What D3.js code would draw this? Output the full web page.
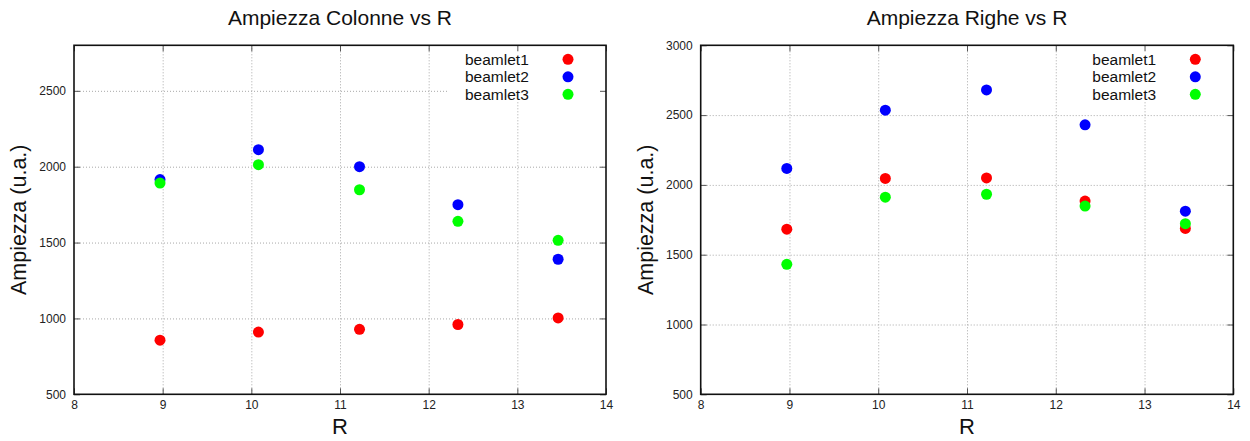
<!DOCTYPE html>
<html>
<head>
<meta charset="utf-8">
<script src="https://cdn.jsdelivr.net/npm/d3@7"></script>
<style>
    body { margin: 0; background: #fff; }
    svg { display: block; font-family: "Liberation Sans", Arial, sans-serif; }
</style>
</head>
<body>
<svg id="chart" width="1250" height="441"></svg>
<script>
    // Data
    const rValues = [8.97, 10.08, 11.22, 12.33, 13.46];
    const seriesNames = ['beamlet1', 'beamlet2', 'beamlet3'];
    const seriesColors = ['#ff0000', '#0000ff', '#00ff00'];

    const colonneBeamlet1 = [857, 910, 928, 960, 1003];
    const colonneBeamlet2 = [1915, 2112, 2000, 1750, 1390];
    const colonneBeamlet3 = [1892, 2013, 1848, 1640, 1515];

    const righeBeamlet1 = [1683, 2046, 2050, 1884, 1688];
    const righeBeamlet2 = [2118, 2535, 2680, 2430, 1812];
    const righeBeamlet3 = [1431, 1912, 1933, 1848, 1722];

    const xTicks = [8, 9, 10, 11, 12, 13, 14];
    const colonneYTicks = [500, 1000, 1500, 2000, 2500];
    const righeYTicks = [500, 1000, 1500, 2000, 2500, 3000];

    const svg = d3.select('#chart');

    // Draw one gnuplot-style panel
    function drawPanel(opts) {
        const { left, right, top, bottom, title, yDomain, yTicks, series } = opts;

        const x = d3.scaleLinear().domain([8, 14]).range([left, right]);
        const y = d3.scaleLinear().domain(yDomain).range([bottom, top]);
        const g = svg.append('g');

        // Grid
        const grid = g.append('g')
            .attr('stroke', '#a8a8a8')
            .attr('stroke-width', 1)
            .attr('stroke-dasharray', '1,2');
        grid.selectAll('line.gx')
            .data(xTicks.slice(1, -1))
            .join('line')
            .attr('x1', d => x(d) + 0.5).attr('x2', d => x(d) + 0.5)
            .attr('y1', top).attr('y2', bottom);
        grid.selectAll('line.gy')
            .data(yTicks.filter(t => t > yDomain[0] && t < yDomain[1]))
            .join('line')
            .attr('x1', left).attr('x2', right)
            .attr('y1', d => y(d) + 0.5).attr('y2', d => y(d) + 0.5);

        // Legend box hides the grid behind it
        const legX = right - 158;
        g.append('rect')
            .attr('x', legX).attr('y', top + 1)
            .attr('width', right - legX - 1).attr('height', 55)
            .attr('fill', '#fff');

        // Axes: inward ticks on all four sides
        const tickLen = -6;
        g.append('g')
            .attr('transform', `translate(0,${bottom})`)
            .call(d3.axisBottom(x).tickValues(xTicks).tickSize(tickLen).tickPadding(6).tickFormat(d3.format('d')));
        g.append('g')
            .attr('transform', `translate(0,${top})`)
            .call(d3.axisTop(x).tickValues(xTicks).tickSize(tickLen).tickFormat(''));
        g.append('g')
            .attr('transform', `translate(${left},0)`)
            .call(d3.axisLeft(y).tickValues(yTicks).tickSize(tickLen).tickPadding(8).tickFormat(d3.format('d')));
        g.append('g')
            .attr('transform', `translate(${right},0)`)
            .call(d3.axisRight(y).tickValues(yTicks).tickSize(tickLen).tickFormat(''));

        g.selectAll('.domain').remove();
        g.selectAll('.tick line').attr('stroke', '#555').attr('stroke-width', 1);
        g.selectAll('.tick text')
            .attr('font-size', 12)
            .attr('fill', '#222')
            .attr('font-family', '"Liberation Sans", Arial, sans-serif');

        // Border
        g.append('rect')
            .attr('x', left).attr('y', top)
            .attr('width', right - left).attr('height', bottom - top)
            .attr('fill', 'none')
            .attr('stroke', '#111')
            .attr('stroke-width', 1.6);

        // Points
        series.forEach((vals, i) => {
            g.append('g').selectAll('circle')
                .data(vals.map((v, j) => [rValues[j], v]))
                .join('circle')
                .attr('cx', d => x(d[0]))
                .attr('cy', d => y(d[1]))
                .attr('r', 5.5)
                .attr('fill', seriesColors[i]);
        });

        // Legend
        const leg = g.append('g');
        seriesNames.forEach((name, i) => {
            const ly = top + 14 + i * 17.5;
            leg.append('text')
                .attr('x', legX + 17).attr('y', ly + 5.5)
                .attr('font-size', 15.5)
                .attr('fill', '#111')
                .text(name);
            leg.append('circle')
                .attr('cx', legX + 120).attr('cy', ly)
                .attr('r', 5.5)
                .attr('fill', seriesColors[i]);
        });

        // Titles
        const cx = (left + right) / 2;
        g.append('text')
            .attr('x', cx).attr('y', 25)
            .attr('text-anchor', 'middle')
            .attr('font-size', 21)
            .attr('fill', '#111')
            .text(title);
        g.append('text')
            .attr('x', cx).attr('y', 434)
            .attr('text-anchor', 'middle')
            .attr('font-size', 22)
            .attr('fill', '#111')
            .text('R');
        g.append('text')
            .attr('transform', `translate(${left - 48},${(top + bottom) / 2}) rotate(-90)`)
            .attr('text-anchor', 'middle')
            .attr('font-size', 21.5)
            .attr('fill', '#111')
            .text('Ampiezza (u.a.)');
    }

    drawPanel({
        left: 74, right: 606, top: 45.3, bottom: 394.3,
        title: 'Ampiezza Colonne vs R',
        yDomain: [500, 2800],
        yTicks: colonneYTicks,
        series: [colonneBeamlet1, colonneBeamlet2, colonneBeamlet3]
    });

    drawPanel({
        left: 700.7, right: 1233.3, top: 45.3, bottom: 394.3,
        title: 'Ampiezza Righe vs R',
        yDomain: [500, 3000],
        yTicks: righeYTicks,
        series: [righeBeamlet1, righeBeamlet2, righeBeamlet3]
    });
</script>
</body>
</html>
